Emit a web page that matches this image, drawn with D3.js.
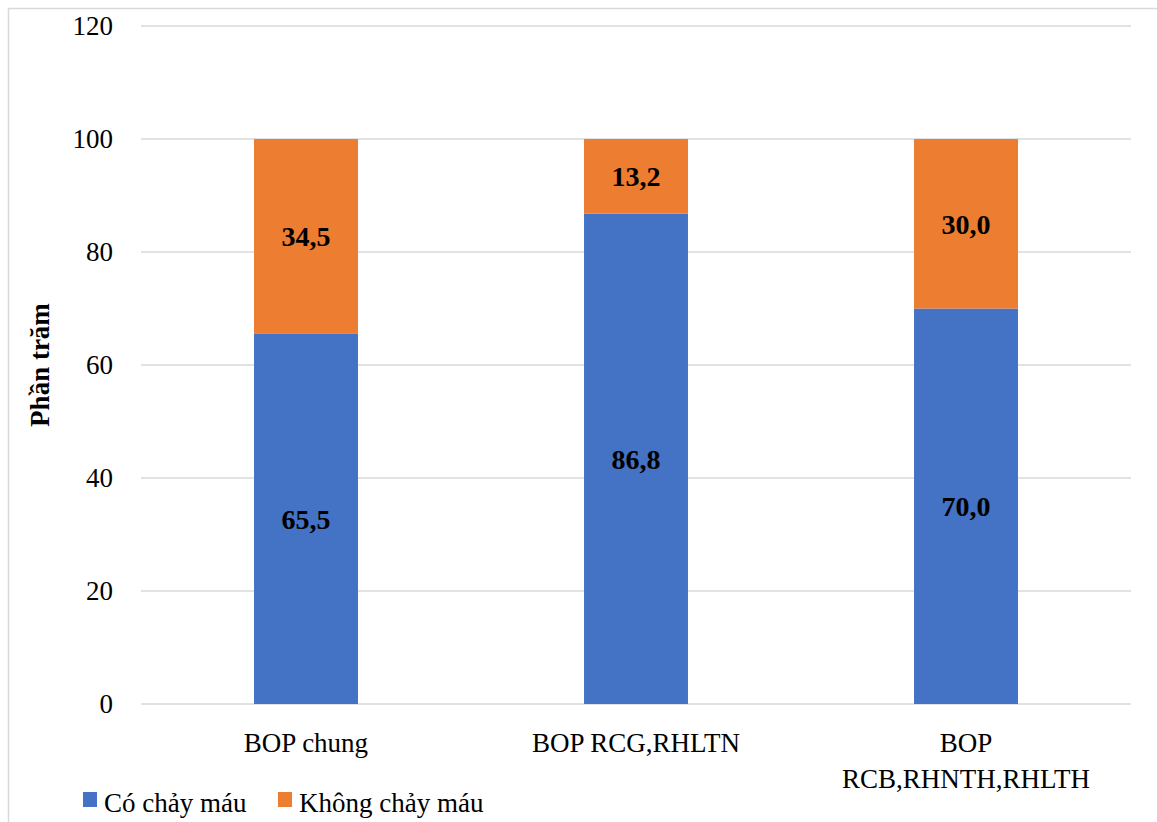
<!DOCTYPE html>
<html>
<head>
<meta charset="utf-8">
<script src="https://cdn.jsdelivr.net/npm/d3@7/dist/d3.min.js"></script>
<style>
  html, body { margin: 0; padding: 0; background: #fff; font-family: "Liberation Serif"; }
  svg { display: block; }
</style>
</head>
<body>
<script>
// Category labels (line-broken as displayed) and stacked series values (%)
const categories = ["BOP chung", "BOP RCG,RHLTN", "BOP\nRCB,RHNTH,RHLTH"];
const coChayMau = [65.5, 86.8, 70.0];
const khongChayMau = [34.5, 13.2, 30.0];
const seriesNames = ["Có chảy máu", "Không chảy máu"];
const seriesColors = ["#4472C4", "#ED7D31"];
const yTicks = [0, 20, 40, 60, 80, 100, 120];

const W = 1157, H = 822;
const plot = { left: 141, right: 1131, top: 26, bottom: 704 };
const FONT = "Liberation Serif";

const svg = d3.select("body").append("svg")
  .attr("width", W).attr("height", H)
  .attr("font-family", FONT);

// chart frame
svg.append("rect")
  .attr("x", 8.5).attr("y", 8.5)
  .attr("width", W + 10).attr("height", H + 10)
  .attr("fill", "none").attr("stroke", "#d9d9d9").attr("stroke-width", 1.5);

const x = d3.scaleBand().domain(categories).range([plot.left, plot.right]).padding(0);
const y = d3.scaleLinear().domain([0, 120]).range([plot.bottom, plot.top]);
const barW = x.bandwidth() * 0.315;

// gridlines
svg.append("g").selectAll("line").data(yTicks).join("line")
  .attr("x1", plot.left).attr("x2", plot.right)
  .attr("y1", d => y(d)).attr("y2", d => y(d))
  .attr("stroke", "#d9d9d9").attr("stroke-width", 1.5);

// y tick labels
svg.append("g").selectAll("text").data(yTicks).join("text")
  .attr("x", plot.left - 28)
  .attr("y", d => y(d))
  .attr("dy", "0.32em")
  .attr("text-anchor", "end")
  .attr("font-family", FONT)
  .attr("font-size", 27).attr("fill", "#000")
  .text(d => d);

// stacked data
const rows = categories.map((c, i) => ({ cat: c, a: coChayMau[i], b: khongChayMau[i] }));
const stack = d3.stack().keys(["a", "b"])(rows);

const layers = svg.append("g").selectAll("g").data(stack).join("g")
  .attr("fill", (d, i) => seriesColors[i]);

layers.selectAll("rect").data(d => d).join("rect")
  .attr("x", d => x(d.data.cat) + (x.bandwidth() - barW) / 2)
  .attr("y", d => y(d[1]))
  .attr("width", barW)
  .attr("height", d => y(d[0]) - y(d[1]));

// value labels in segment centres
const fmt = v => d3.format(".1f")(v).replace(".", ",");
svg.append("g").selectAll("g").data(stack).join("g")
  .selectAll("text").data(d => d).join("text")
  .attr("x", d => x(d.data.cat) + x.bandwidth() / 2)
  .attr("y", d => y((d[0] + d[1]) / 2))
  .attr("dy", "0.35em")
  .attr("text-anchor", "middle")
  .attr("font-family", FONT)
  .attr("font-size", 28).attr("font-weight", "bold").attr("fill", "#000")
  .text(d => fmt(d[1] - d[0]));

// category labels
const catG = svg.append("g").selectAll("text").data(categories).join("text")
  .attr("x", d => x(d) + x.bandwidth() / 2)
  .attr("y", 752)
  .attr("text-anchor", "middle")
  .attr("font-family", FONT)
  .attr("font-size", 27).attr("fill", "#000");
catG.each(function(d) {
  const lines = d.split("\n");
  d3.select(this).selectAll("tspan").data(lines).join("tspan")
    .attr("x", x(d) + x.bandwidth() / 2)
    .attr("dy", (l, i) => i === 0 ? 0 : 36)
    .text(l => l);
});

// y-axis title
svg.append("text")
  .attr("transform", "translate(49,365) rotate(-90)")
  .attr("text-anchor", "middle")
  .attr("font-family", FONT)
  .attr("font-size", 27).attr("font-weight", "bold").attr("fill", "#000")
  .text("Phần trăm");

// legend
const legendX = [83, 278];
const lg = svg.append("g").selectAll("g").data(seriesNames).join("g")
  .attr("transform", (d, i) => `translate(${legendX[i]},792)`);
lg.append("rect").attr("width", 14).attr("height", 15)
  .attr("fill", (d, i) => seriesColors[i]);
lg.append("text").attr("x", 21).attr("y", 20)
  .attr("font-family", FONT)
  .attr("font-size", 27).attr("fill", "#000").text(d => d);
</script>
</body>
</html>
